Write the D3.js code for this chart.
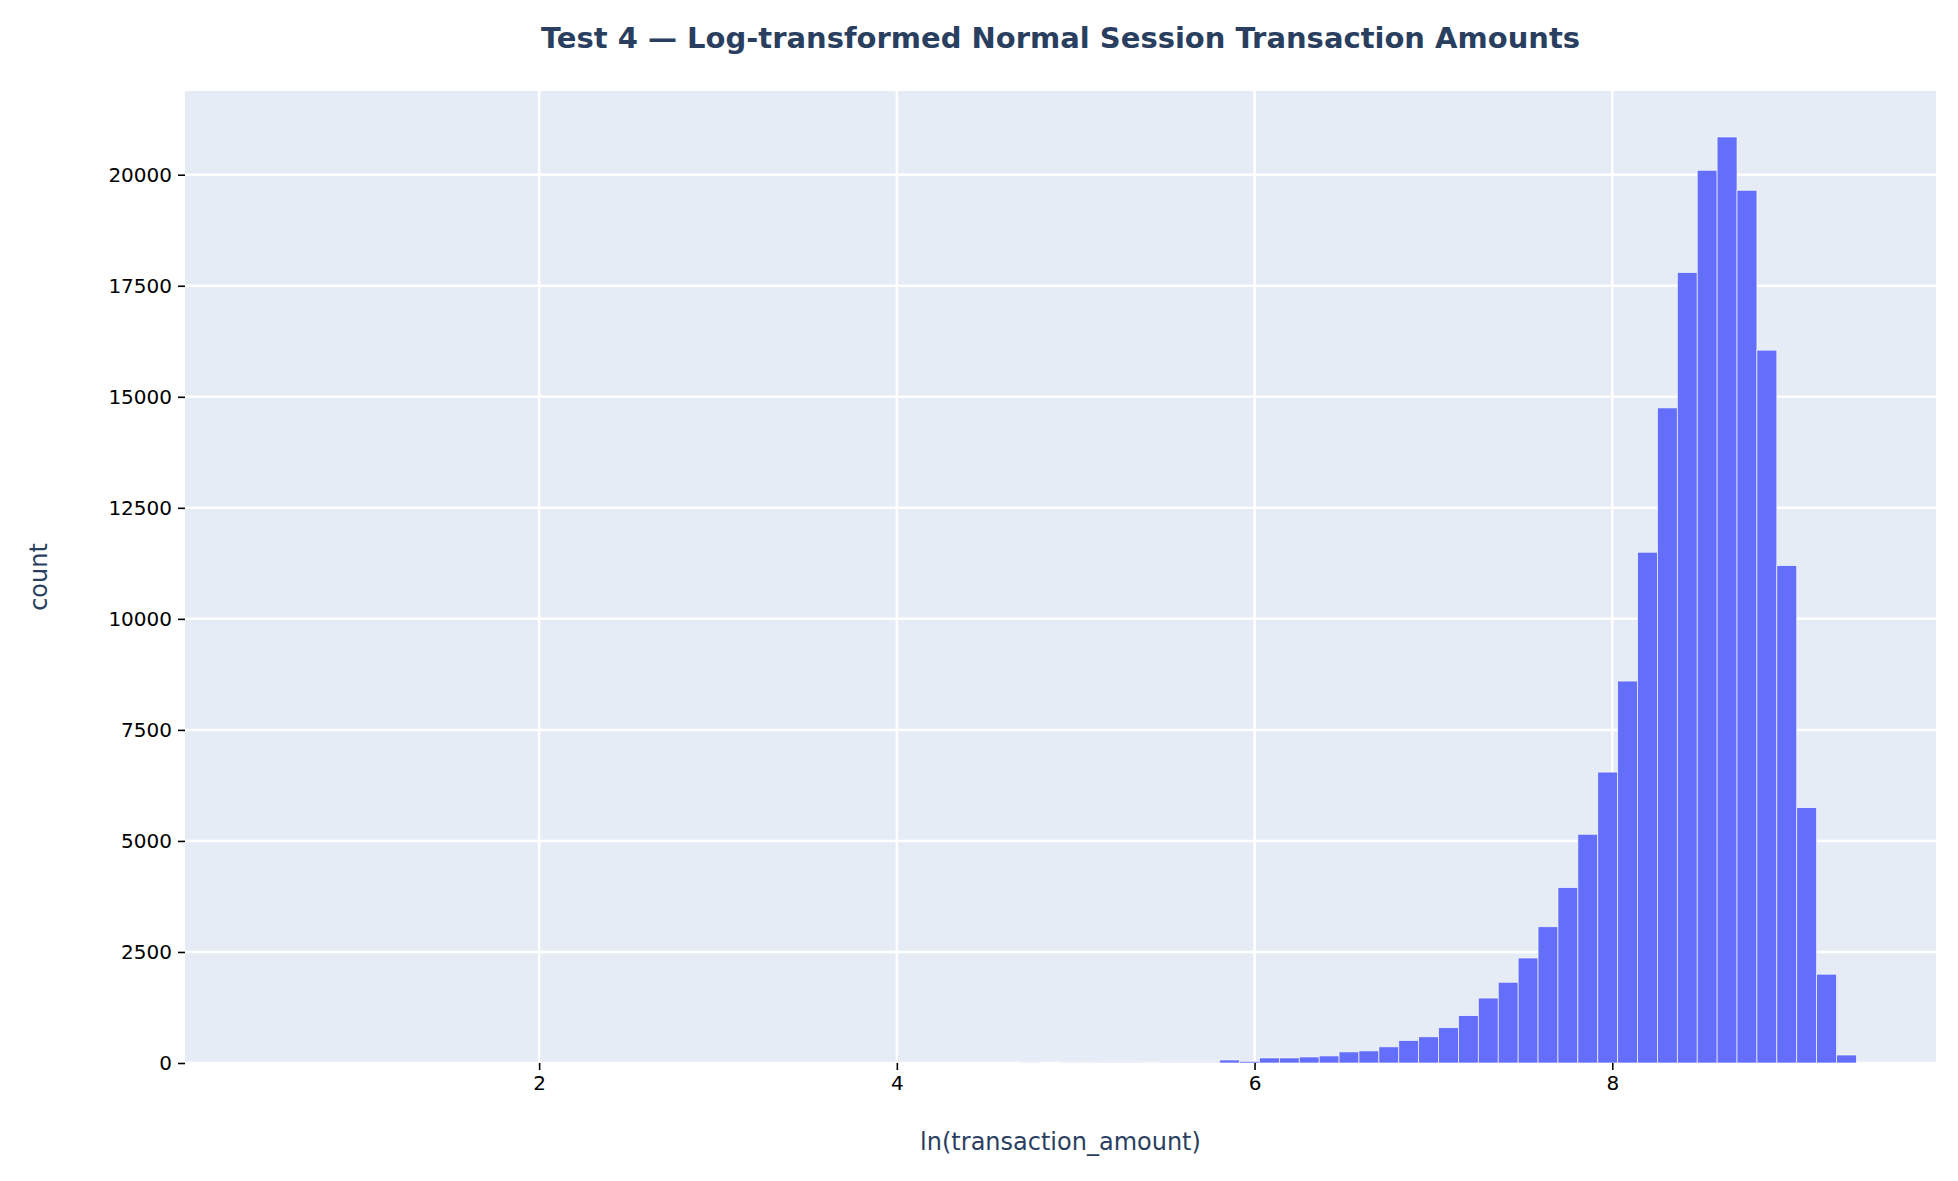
<!DOCTYPE html>
<html><head><meta charset="utf-8">
<script src="https://cdn.jsdelivr.net/npm/d3@7"></script>
<style>body{margin:0;background:#fff}</style></head>
<body><svg id="c" width="1958" height="1181"></svg>
<script>
const binStart = 0.465, binWidth = 0.11125;
// counts per bin (80 bins)
const counts = [
0,0,0,0,0,0,0,0,0,0,
0,0,0,0,0,0,0,0,0,0,
0,0,0,0,0,0,0,0,0,0,
0,0,0,0,0,0,0,0,4,0,
4,4,15,15,3,15,15,15,68,38,
114,114,136,160,250,273,364,508,590,795,
1068,1462,1818,2364,3068,3950,5150,6550,8600,11500,
14750,17800,20100,20850,19650,16050,11200,5750,2000,180];
const xTicks = [2,4,6,8];
const yTicks = [0,2500,5000,7500,10000,12500,15000,17500,20000];

const svg = d3.select("#c");
const m = {l:185, r:1936, t:91, b:1063};
const x = d3.scaleLinear().domain([0.02, 9.81]).range([m.l, m.r]);
const y = d3.scaleLinear().domain([0, 21885]).range([m.b, m.t]);
svg.append("rect").attr("x",m.l).attr("y",m.t).attr("width",m.r-m.l).attr("height",m.b-m.t).attr("fill","#e5ecf6");
const g = svg.append("g");
g.selectAll(".gx").data(xTicks).join("line").attr("x1",d=>x(d)).attr("x2",d=>x(d)).attr("y1",m.t).attr("y2",m.b).attr("stroke","#fff").attr("stroke-width",2.5);
g.selectAll(".gy").data(yTicks).join("line").attr("y1",d=>y(d)).attr("y2",d=>y(d)).attr("x1",m.l).attr("x2",m.r).attr("stroke","#fff").attr("stroke-width",2.5);
svg.append("g").selectAll("rect").data(counts).join("rect")
 .attr("x",(d,i)=>x(binStart+i*binWidth)).attr("width",(d,i)=>x(binStart+(i+1)*binWidth)-x(binStart+i*binWidth))
 .attr("y",d=>y(d)).attr("height",d=>y(0)-y(d))
 .attr("fill","#636efa").attr("stroke","#ffffff").attr("stroke-width",0.8).attr("stroke-opacity",0.8);
const ax = svg.append("g").attr("transform",`translate(0,${m.b})`).call(d3.axisBottom(x).tickValues(xTicks).tickSize(7).tickPadding(6).tickFormat(d3.format("d")));
const ay = svg.append("g").attr("transform",`translate(${m.l},0)`).call(d3.axisLeft(y).tickValues(yTicks).tickSize(7).tickPadding(6).tickFormat(d3.format("d")));
[ax,ay].forEach(a=>{a.select(".domain").remove();a.selectAll("text").attr("font-family","DejaVu Sans").attr("font-size",20).attr("fill","#000");a.selectAll("line").attr("stroke","#000").attr("stroke-width",1.6);});
svg.append("text").attr("x",(m.l+m.r)/2).attr("y",48).attr("text-anchor","middle").attr("font-family","DejaVu Sans").attr("font-weight","bold").attr("font-size",29).attr("fill","#2a3f5f").text("Test 4 — Log-transformed Normal Session Transaction Amounts");
svg.append("text").attr("x",(m.l+m.r)/2).attr("y",1150).attr("text-anchor","middle").attr("font-family","DejaVu Sans").attr("font-size",24).attr("fill","#2a3f5f").text("ln(transaction_amount)");
svg.append("text").attr("transform",`translate(47,${(m.t+m.b)/2}) rotate(-90)`).attr("text-anchor","middle").attr("font-family","DejaVu Sans").attr("font-size",24).attr("fill","#2a3f5f").text("count");
</script></body></html>
